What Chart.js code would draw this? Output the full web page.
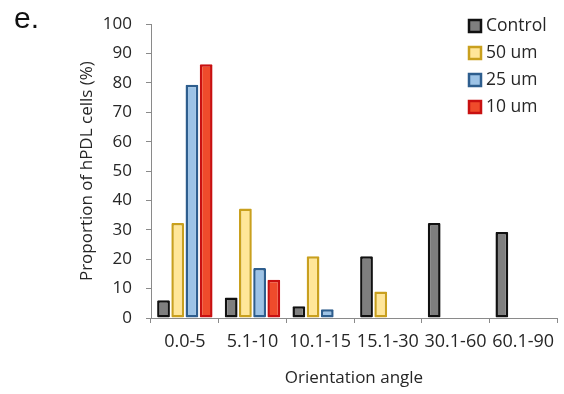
<!DOCTYPE html>
<html>
<head>
<meta charset="utf-8">
<script src="https://cdn.jsdelivr.net/npm/chart.js@4/dist/chart.umd.min.js"></script>
<style>
  body { margin: 0; background: #fff; }
  #wrap { position: relative; width: 564px; height: 394px; }
  #panel { position: absolute; left: 14px; top: 3px; font: 30px 'Liberation Sans', Arial, sans-serif; color: #111; line-height: 30px; }
</style>
</head>
<body>
<div id="wrap">
  <canvas id="chart" width="564" height="394"></canvas>
  <div id="panel">e.</div>
</div>
<script>
// categories (orientation angle bins)
const categories = ['0.0-5', '5.1-10', '10.1-15', '15.1-30', '30.1-60', '60.1-90'];

// proportion of hPDL cells (%) per group
const control = [6, 7, 4, 21, 32.3, 29.3];
const um50 = [32.3, 37.3, 21, 9, null, null];
const um25 = [79.4, 17, 3, null, null, null];
const um10 = [86.4, 13, null, null, null, null];

const yTicks = [0, 10, 20, 30, 40, 50, 60, 70, 80, 90, 100];

const FONT = "'Open Sans', 'Liberation Sans', sans-serif";
const axisGray = '#8a8a8a';
const textColor = '#262626';

// legend drawn inside the plot area (top right), from the datasets
const boxLegend = {
    id: 'boxLegend',
    afterDraw(chart) {
        const ctx = chart.ctx;
        ctx.save();
        ctx.font = '17.5px ' + FONT;
        ctx.textBaseline = 'middle';
        ctx.textAlign = 'left';
        chart.data.datasets.forEach((ds, i) => {
            const cy = 26 + i * 27;
            ctx.fillStyle = ds.backgroundColor;
            ctx.fillRect(469, cy - 6, 12, 12);
            ctx.strokeStyle = ds.borderColor;
            ctx.lineWidth = 2.5;
            ctx.strokeRect(469, cy - 6, 12, 12);
            ctx.fillStyle = textColor;
            ctx.fillText(ds.label, 486, cy);
        });
        ctx.restore();
    }
};

const ctx = document.getElementById('chart').getContext('2d');
new Chart(ctx, {
    type: 'bar',
    data: {
        labels: categories,
        datasets: [
            { label: 'Control', data: control, backgroundColor: '#7f7f7f', borderColor: '#111111' },
            { label: '50 um', data: um50, backgroundColor: '#ffe699', borderColor: '#c9a01e' },
            { label: '25 um', data: um25, backgroundColor: '#9dc3e6', borderColor: '#2e5e8e' },
            { label: '10 um', data: um10, backgroundColor: '#ef4b2b', borderColor: '#c81010' }
        ]
    },
    options: {
        responsive: false,
        animation: false,
        layout: { padding: { left: 0, top: 24, right: 7, bottom: 0 } },
        datasets: {
            bar: {
                borderWidth: 2.5,
                borderSkipped: false,
                borderRadius: 1,
                categoryPercentage: 0.84,
                barPercentage: 0.9
            }
        },
        plugins: {
            legend: { display: false },
            tooltip: { enabled: false }
        },
        scales: {
            x: {
                grid: { display: true, offset: true, drawOnChartArea: false, drawTicks: true, tickLength: 5, color: axisGray },
                border: { display: true, color: axisGray, width: 1 },
                ticks: { color: textColor, font: { family: FONT, size: 18 }, padding: 8, maxRotation: 0 },
                title: {
                    display: true,
                    text: 'Orientation angle',
                    color: textColor,
                    font: { family: FONT, size: 17 },
                    padding: { top: 0, bottom: 6 }
                },
                afterFit(scale) { scale.height = 76; }
            },
            y: {
                min: 0,
                max: 100,
                afterBuildTicks(scale) { scale.ticks = yTicks.map(v => ({ value: v })); },
                grid: { display: true, drawOnChartArea: false, drawTicks: true, tickLength: 5, color: axisGray },
                border: { display: true, color: axisGray, width: 1 },
                ticks: { color: textColor, font: { family: FONT, size: 17 }, padding: 14 },
                title: {
                    display: true,
                    text: 'Proportion of hPDL cells (%)',
                    color: textColor,
                    font: { family: FONT, size: 17 },
                    padding: { top: 77, bottom: 0 }
                },
                afterFit(scale) { scale.width = 151; }
            }
        }
    },
    plugins: [boxLegend]
});
</script>
</body>
</html>
